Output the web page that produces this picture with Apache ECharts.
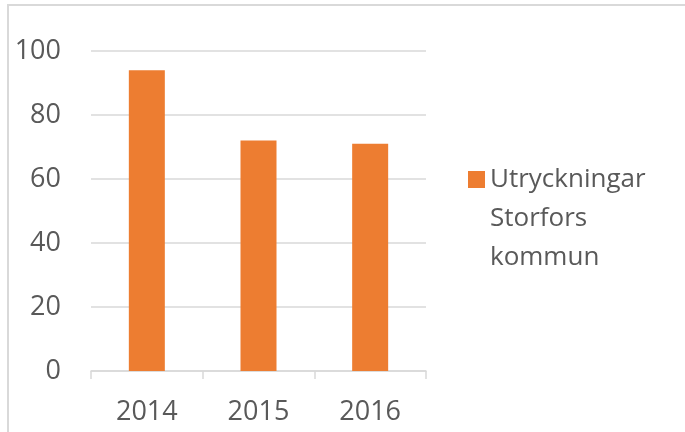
<!DOCTYPE html>
<html>
<head>
<meta charset="utf-8">
<script src="https://cdn.jsdelivr.net/npm/echarts@6/dist/echarts.min.js"></script>
<style>
  html, body { margin: 0; padding: 0; background: #fff; }
  #main { width: 685px; height: 432px; }
</style>
</head>
<body>
<div id="main"></div>
<script>
var years = ['2014', '2015', '2016'];
var utryckningar = [94, 72, 71];
var seriesName = 'Utryckningar\nStorfors\nkommun';

var option = {
    animation: false,
    textStyle: { fontFamily: 'Open Sans' },
    grid: { left: 91, right: 259, top: 51, bottom: 61 },
    // ram runt diagrammet (bara topp och vänster syns)
    graphic: [{
        type: 'polyline',
        shape: { points: [[8, 432], [8, 5], [685, 5]] },
        style: { stroke: '#d9d9d9', lineWidth: 2, fill: null },
        silent: true
    }],
    legend: {
        left: 468,
        top: 160,
        padding: 0,
        itemWidth: 17,
        itemHeight: 117,
        // ruta i höjd med första textraden
        icon: 'path://M0,0L0,0Z M0,11H17V28H0Z M0,117L0,117Z',
        data: [seriesName],
        textStyle: {
            color: '#595959',
            fontSize: 26,
            lineHeight: 39
        }
    },
    xAxis: {
        type: 'category',
        data: years,
        axisLine: { lineStyle: { color: '#d9d9d9', width: 1.5 } },
        axisTick: { show: true, length: 8, lineStyle: { color: '#d9d9d9', width: 1.5 } },
        axisLabel: { color: '#595959', fontSize: 27, margin: 28 }
    },
    yAxis: {
        type: 'value',
        min: 0,
        max: 100,
        interval: 20,
        axisLine: { show: false },
        axisTick: { show: false },
        axisLabel: { color: '#595959', fontSize: 27, margin: 30 },
        splitLine: { lineStyle: { color: '#d9d9d9', width: 1.5 } }
    },
    series: [{
        name: seriesName,
        type: 'bar',
        data: utryckningar,
        barWidth: 36,
        itemStyle: { color: '#ED7D31' }
    }]
};

var myChart = echarts.init(document.getElementById('main'));
myChart.setOption(option);
</script>
</body>
</html>
